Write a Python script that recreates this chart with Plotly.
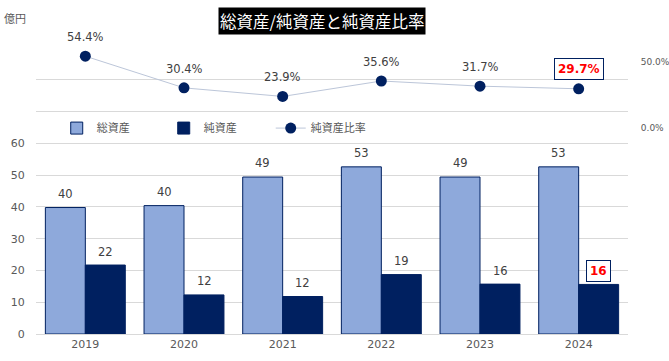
import plotly.graph_objects as go

years = ["2019", "2020", "2021", "2022", "2023", "2024"]
total_assets = [39.8, 40.4, 49.4, 52.6, 49.4, 52.6]
net_assets = [21.7, 12.3, 11.8, 18.7, 15.7, 15.6]
net_ratio = [0.544, 0.304, 0.239, 0.356, 0.317, 0.297]
total_labels = ["40", "40", "49", "53", "49", "53"]
net_labels = ["22", "12", "12", "19", "16", "16"]
ratio_labels = ["54.4%", "30.4%", "23.9%", "35.6%", "31.7%", "29.7%"]
left_ticks = [0, 10, 20, 30, 40, 50, 60, 70, 80, 90]
left_ticktext = ["0", "10", "20", "30", "40", "50", "60", "", "", ""]

NAVY = "#002060"
LIGHT = "#8EA9DB"
GRID = "#D9D9D9"
TXT = "#595959"
LBL = "#404040"
NUM_FONT = "DejaVu Sans"
JP_FONT = "Noto Sans CJK JP"

xpos = list(range(len(years)))

fig = go.Figure()
fig.add_trace(go.Bar(x=xpos, y=total_assets, name="総資産",
                     marker=dict(color=LIGHT, line=dict(color=NAVY, width=1))))
fig.add_trace(go.Bar(x=xpos, y=net_assets, name="純資産",
                     marker=dict(color=NAVY, line=dict(color=NAVY, width=1))))
fig.add_trace(go.Scatter(x=xpos, y=net_ratio, name="純資産比率", yaxis="y2",
                         mode="lines+markers",
                         line=dict(color="#BCC6D9", width=1),
                         marker=dict(color=NAVY, size=11)))

ann = []
last = len(years) - 1
for i in xpos:
    ann.append(dict(x=i, y=total_assets[i], xref="x", yref="y", xshift=-20, yshift=14,
                    text=total_labels[i], showarrow=False, yanchor="middle",
                    font=dict(family=NUM_FONT, size=11.5, color=LBL)))
    if i == last:
        ann.append(dict(x=i, y=net_assets[i], xref="x", yref="y", xshift=20, yshift=13.5,
                        text="<b>" + net_labels[i] + "</b>", showarrow=False, yanchor="middle",
                        bgcolor="white", bordercolor=NAVY, borderwidth=1, borderpad=3,
                        font=dict(family=NUM_FONT, size=12, color="#FF0000")))
        ann.append(dict(x=i, y=net_ratio[i], xref="x", yref="y2", yshift=20,
                        text="<b>" + ratio_labels[i] + "</b>", showarrow=False, yanchor="middle",
                        bgcolor="white", bordercolor=NAVY, borderwidth=1, borderpad=3,
                        font=dict(family=NUM_FONT, size=12, color="#FF0000")))
    else:
        ann.append(dict(x=i, y=net_assets[i], xref="x", yref="y", xshift=20, yshift=13.5,
                        text=net_labels[i], showarrow=False, yanchor="middle",
                        font=dict(family=NUM_FONT, size=11.5, color=LBL)))
        ann.append(dict(x=i, y=net_ratio[i], xref="x", yref="y2", yshift=19,
                        text=ratio_labels[i], showarrow=False, yanchor="middle",
                        font=dict(family=NUM_FONT, size=11.5, color=LBL)))

ann.append(dict(x=0.483, y=1.0944, xref="paper", yref="paper",
                text="総資産/純資産と純資産比率", showarrow=False,
                xanchor="center", yanchor="middle", bgcolor="black", borderpad=1,
                font=dict(family=JP_FONT, size=16.5, color="white")))
ann.append(dict(x=-0.0355, y=1.105, xref="paper", yref="paper",
                text="億円", showarrow=False, xanchor="center", yanchor="middle",
                font=dict(family=JP_FONT, size=11, color=TXT)))

fig.update_layout(
    width=669, height=361,
    margin=dict(l=36, r=41, t=48, b=27, autoexpand=False),
    paper_bgcolor="white", plot_bgcolor="white",
    barmode="group", bargap=0.19, bargroupgap=0,
    showlegend=True,
    legend=dict(orientation="h", x=0.035, y=0.72, xanchor="left", yanchor="middle",
                entrywidth=62, entrywidthmode="pixels",
                font=dict(family=JP_FONT, size=11, color=TXT), bgcolor="rgba(0,0,0,0)"),
    xaxis=dict(range=[-0.5, len(years) - 0.5], tickvals=xpos, ticktext=years,
               showline=True, linecolor=GRID, showgrid=False, zeroline=False,
               automargin=False,
               tickfont=dict(family=NUM_FONT, size=11, color=TXT), ticks=""),
    yaxis=dict(range=[0, 90], tickvals=left_ticks, ticktext=left_ticktext,
               showgrid=True, gridcolor=GRID, gridwidth=1, zeroline=False,
               automargin=False,
               ticks="outside", ticklen=8, tickcolor="rgba(0,0,0,0)",
               tickfont=dict(family=NUM_FONT, size=11, color=TXT)),
    yaxis2=dict(overlaying="y", side="right", range=[-1.5606, 0.606],
                tickvals=[0, 0.5], tickformat=".1%", showgrid=False, zeroline=False,
                automargin=False,
                ticks="outside", ticklen=10, tickcolor="rgba(0,0,0,0)",
                tickfont=dict(family=NUM_FONT, size=9, color=TXT)),
    annotations=ann,
)

fig.write_html("out.html", config={"responsive": False, "displayModeBar": False},
               post_script="document.body.style.margin='0px';document.body.style.overflow='hidden';")
